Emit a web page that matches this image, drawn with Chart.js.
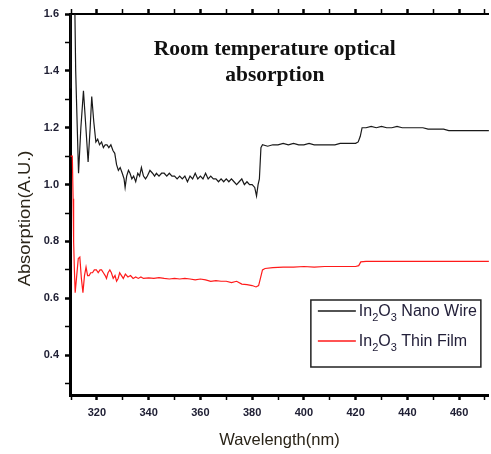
<!DOCTYPE html>
<html><head><meta charset="utf-8">
<script src="https://cdn.jsdelivr.net/npm/chart.js@4/dist/chart.umd.min.js"></script>
<style>html,body{margin:0;padding:0;background:#fff;} canvas{display:block}</style>
</head><body>
<canvas id="c" width="491" height="454"></canvas>
<script>
// ---------- data ----------
const chartTitle = ['Room temperature optical', 'absorption'];
const xAxisTitle = 'Wavelength(nm)';
const yAxisTitle = 'Absorption(A.U.)';
// "_" marks the next character as a subscript
const seriesLabels = ['In_2O_3 Nano Wire', 'In_2O_3 Thin Film'];

const wireNm = [309.7,309.9,310.6,311.2,311.8,312.1,312.9,313.8,314.8,315.6,316.6,317.4,318.0,318.8,319.6,320.3,321.0,321.8,322.5,323.2,323.9,324.6,325.4,326.2,326.9,327.6,328.3,329.0,329.8,330.5,330.9,331.5,332.2,332.8,333.5,334.2,335.0,335.8,336.5,337.2,338.0,338.8,339.5,340.5,341.5,342.3,343.0,344.0,345.0,346.0,347.0,348.0,349.0,350.0,351.0,352.0,353.0,354.0,355.0,356.0,357.0,358.0,359.0,360.0,361.0,362.0,363.0,364.0,365.0,366.0,367.0,368.0,369.0,370.0,371.0,372.0,373.0,374.0,375.0,376.0,377.0,378.0,379.0,380.0,381.0,381.7,382.3,382.8,383.4,384.0,386.0,388.0,390.0,392.0,394.0,396.0,398.0,400.0,402.0,404.0,406.0,408.0,410.0,412.0,414.0,416.0,418.0,420.0,421.0,421.8,422.5,424.0,426.0,428.0,430.0,432.0,434.0,436.0,438.0,440.0,442.0,444.0,446.0,448.0,450.0,452.0,454.0,456.0,458.0,460.0,462.0,464.0,466.0,468.0,470.0,472.0];
const wireAbs = [1.34,1.80,1.80,1.80,1.40,1.30,1.04,1.20,1.33,1.22,1.08,1.20,1.31,1.22,1.15,1.16,1.14,1.15,1.13,1.14,1.14,1.13,1.14,1.12,1.11,1.07,1.05,1.06,1.04,1.02,0.99,1.03,1.05,1.04,1.02,1.03,1.01,1.04,1.03,1.06,1.03,1.02,1.03,1.05,1.04,1.03,1.04,1.03,1.04,1.04,1.03,1.04,1.03,1.03,1.02,1.03,1.02,1.03,1.01,1.03,1.02,1.04,1.02,1.03,1.02,1.04,1.02,1.03,1.02,1.02,1.01,1.02,1.01,1.02,1.01,1.02,1.01,1.00,1.01,1.02,1.00,1.01,1.00,1.00,0.99,0.96,1.00,1.02,1.13,1.14,1.135,1.14,1.14,1.145,1.14,1.145,1.14,1.14,1.145,1.14,1.14,1.14,1.14,1.14,1.145,1.145,1.145,1.145,1.15,1.17,1.20,1.20,1.205,1.20,1.205,1.20,1.20,1.205,1.20,1.20,1.20,1.20,1.20,1.195,1.195,1.195,1.195,1.19,1.19,1.19,1.19,1.19,1.19,1.19,1.19,1.19];

const filmNm = [309.8,310.5,310.8,311.0,311.3,311.6,312.2,312.8,313.4,314.0,314.6,315.2,315.8,316.4,317.0,317.6,318.3,319.0,319.8,320.5,321.2,321.8,322.5,323.2,323.7,324.3,325.0,325.6,326.3,327.0,327.6,328.2,328.8,329.5,330.2,331.0,332.0,333.0,334.0,335.0,336.0,337.0,338.0,340.0,342.0,344.0,346.0,348.0,350.0,352.0,354.0,356.0,358.0,360.0,362.0,364.0,366.0,368.0,370.0,372.0,374.0,376.0,378.0,380.0,381.5,382.5,383.2,384.0,385.0,388.0,392.0,396.0,400.0,404.0,408.0,412.0,416.0,420.0,421.2,422.0,424.0,430.0,440.0,450.0,460.0,472.0];
const filmAbs = [1.10,1.10,0.95,0.80,0.70,0.62,0.68,0.74,0.745,0.67,0.62,0.68,0.71,0.68,0.68,0.69,0.69,0.70,0.70,0.69,0.70,0.70,0.69,0.68,0.67,0.69,0.70,0.69,0.67,0.68,0.66,0.67,0.69,0.68,0.67,0.685,0.675,0.68,0.67,0.675,0.67,0.675,0.67,0.672,0.67,0.673,0.67,0.668,0.67,0.668,0.67,0.668,0.665,0.668,0.665,0.66,0.662,0.66,0.66,0.655,0.66,0.65,0.648,0.645,0.64,0.645,0.67,0.70,0.705,0.708,0.71,0.71,0.712,0.71,0.712,0.712,0.712,0.712,0.715,0.728,0.73,0.73,0.73,0.73,0.73,0.73];

const xMin = 309.6, xMax = 471.5, xStep = 10, xLabelEvery = 20;
const yMin = 0.26, yMax = 1.6, yStep = 0.1;

// ---------- chart ----------
const toPts = (xs, ys) => xs.map((x, i) => ({x, y: ys[i]}));
const plain = s => s.replace(/_/g, '');

const isMajorX = v => Math.round(v) % xLabelEvery === 0;
const isMajorY = v => Math.round(v * 10) % 2 === 0;

const tickFont = {family: 'Liberation Sans, Arial, sans-serif', size: 11, weight: 'bold'};
const tickColor = '#202035';
const axisTitleColor = '#2a2418';

const overlayPlugin = {
  id: 'overlay',
  afterDraw(chart) {
    const ctx = chart.ctx, a = chart.chartArea;
    ctx.save();
    // title inside plot
    ctx.fillStyle = '#111';
    ctx.font = 'bold 21.5px "Liberation Serif", "Times New Roman", serif';
    ctx.textAlign = 'center';
    ctx.textBaseline = 'middle';
    const cx = a.left + (a.right - a.left) * 0.489;
    chartTitle.forEach((t, i) => ctx.fillText(t, cx, a.top + 35 + i * 26));

    // axis titles
    ctx.fillStyle = axisTitleColor;
    ctx.font = '16.5px "Liberation Sans", Arial, sans-serif';
    ctx.fillText(xAxisTitle, (a.left + a.right) / 2, a.bottom + 45);
    ctx.save();
    ctx.translate(25, (a.top + a.bottom) / 2 + 14);
    ctx.rotate(-Math.PI / 2);
    ctx.scale(1.08, 1);
    ctx.font = '17px "Liberation Sans", Arial, sans-serif';
    ctx.fillText(yAxisTitle, 0, 0);
    ctx.restore();

    // legend box
    const bx = a.right - 178, by = a.bottom - 95, bw = 170, bh = 67;
    ctx.strokeStyle = '#222';
    ctx.lineWidth = 1.5;
    ctx.strokeRect(bx, by, bw, bh);
    const colors = chart.data.datasets.map(d => d.borderColor);
    ctx.textAlign = 'left';
    ctx.textBaseline = 'alphabetic';
    seriesLabels.forEach((lab, i) => {
      const ly = by + 11 + i * 30;
      ctx.strokeStyle = colors[i];
      ctx.lineWidth = 1.5;
      ctx.beginPath();
      ctx.moveTo(bx + 7, ly);
      ctx.lineTo(bx + 45, ly);
      ctx.stroke();
      let tx = bx + 48;
      const base = ly + 5;
      ctx.fillStyle = '#23203a';
      for (let k = 0; k < lab.length; k++) {
        let ch = lab[k];
        if (ch === '_') {
          k++; ch = lab[k];
          ctx.font = '11px "Liberation Sans", Arial, sans-serif';
          ctx.fillText(ch, tx, base + 5);
          tx += ctx.measureText(ch).width;
        } else {
          ctx.font = '16px "Liberation Sans", Arial, sans-serif';
          ctx.fillText(ch, tx, base);
          tx += ctx.measureText(ch).width;
        }
      }
    });
    ctx.restore();
  }
};

new Chart(document.getElementById('c'), {
  type: 'line',
  data: {
    datasets: [
      {label: plain(seriesLabels[0]), data: toPts(wireNm, wireAbs), borderColor: '#1a1a1a', borderWidth: 1.2, pointRadius: 0, tension: 0},
      {label: plain(seriesLabels[1]), data: toPts(filmNm, filmAbs), borderColor: '#ff1a1a', borderWidth: 1.2, pointRadius: 0, tension: 0}
    ]
  },
  options: {
    responsive: false,
    animation: false,
    layout: {padding: 0},
    plugins: {legend: {display: false}, tooltip: {enabled: false}, title: {display: false}},
    scales: {
      x: {
        type: 'linear', position: 'bottom', min: xMin, max: xMax,
        afterFit: s => { s.height = 59; },
        border: {display: true, color: '#000', width: 3},
        grid: {drawOnChartArea: false, drawTicks: true, tickLength: 5, tickColor: '#000',
               tickWidth: c => isMajorX(c.tick.value) ? 2.5 : 1.5},
        ticks: {stepSize: xStep, includeBounds: false, autoSkip: false, maxRotation: 0, padding: 6,
                color: tickColor, font: tickFont,
                callback: v => isMajorX(v) ? String(Math.round(v)) : ''},
        title: {display: false, text: xAxisTitle}
      },
      x2: {
        type: 'linear', position: 'top', min: xMin, max: xMax,
        afterFit: s => { s.height = 14; },
        border: {display: true, color: '#000', width: 2},
        grid: {drawOnChartArea: false, drawTicks: true, tickLength: 5, tickColor: '#000',
               tickWidth: c => isMajorX(c.tick.value) ? 2.5 : 1.5},
        ticks: {display: false, stepSize: xStep, includeBounds: false, autoSkip: false}
      },
      y: {
        type: 'linear', position: 'left', min: yMin, max: yMax,
        afterFit: s => { s.width = 70; },
        border: {display: true, color: '#000', width: 3},
        grid: {drawOnChartArea: false, drawTicks: true, tickLength: 5, tickColor: '#000',
               tickWidth: c => isMajorY(c.tick.value) ? 2.5 : 1.5},
        ticks: {stepSize: yStep, includeBounds: false, autoSkip: false, padding: 6,
                color: tickColor, font: tickFont,
                callback: v => isMajorY(v) ? v.toFixed(1) : ''},
        title: {display: false, text: yAxisTitle}
      }
    }
  },
  plugins: [overlayPlugin]
});
</script>
</body></html>
